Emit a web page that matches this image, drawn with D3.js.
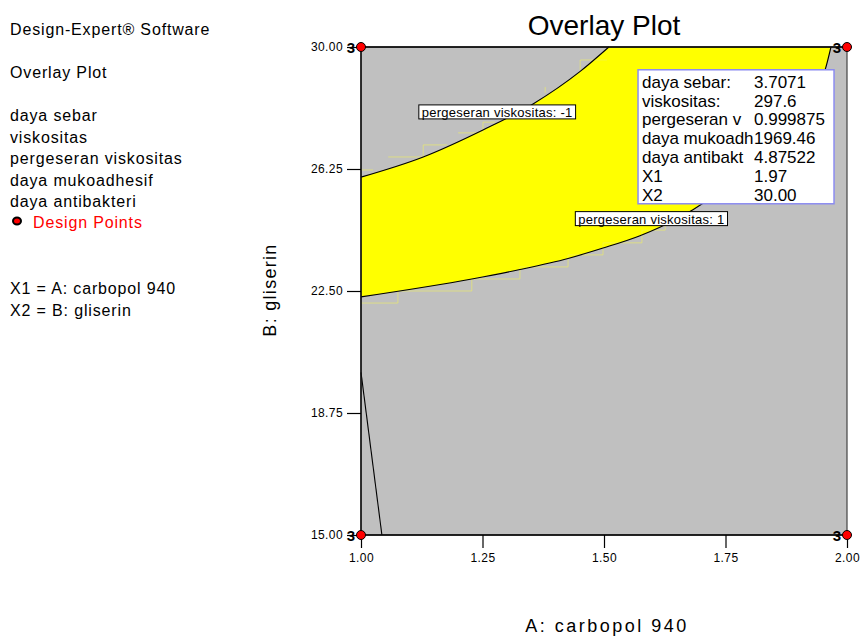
<!DOCTYPE html>
<html>
<head>
<meta charset="utf-8">
<script src="https://cdn.jsdelivr.net/npm/d3@7"></script>
<style>
  html, body { margin: 0; padding: 0; background: #fff; }
  svg { display: block; font-family: "Liberation Sans", Arial, sans-serif; }
</style>
</head>
<body>
<svg id="chart" width="860" height="637"></svg>
<script>
// ---------- data ----------
const xDomain = [1.0, 2.0];
const yDomain = [15.0, 30.0];
const xTicks = [1.00, 1.25, 1.50, 1.75, 2.00];
const yTicks = [15.00, 18.75, 22.50, 26.25, 30.00];

// contour: pergeseran viskositas = -1 (upper boundary of overlay window)
const contourMinus1 = [[1.000, 26.00], [1.128, 26.62], [1.251, 27.45], [1.354, 28.25], [1.451, 29.25], [1.510, 30.00]];
// contour: pergeseran viskositas = 1 (lower boundary of overlay window)
const contourPlus1 = [[1.000, 22.32], [1.228, 22.87], [1.327, 23.16], [1.426, 23.50], [1.498, 23.82], [1.574, 24.20],
                      [1.615, 24.46], [1.683, 25.00], [1.780, 26.05], [1.883, 27.60], [1.955, 29.30], [1.967, 30.00]];
// other constraint boundary, bottom-left
const contourOther = [[1.000, 20.00], [1.043, 15.00]];

// faint grid artifacts along contours
const stepsUpper = [
  [[1.000, 26.22], [1.025, 26.22]],
  [[1.056, 26.62], [1.128, 26.62], [1.128, 26.99], [1.177, 26.99]],
  [[1.200, 27.36], [1.251, 27.36], [1.251, 27.69], [1.276, 27.69]],
  [[1.379, 28.59], [1.379, 28.77]],
  [[1.451, 29.29], [1.451, 29.60], [1.506, 29.60]]
];
const stepsLower = [
  [[1.000, 22.13], [1.076, 22.13], [1.076, 22.50], [1.228, 22.50], [1.228, 22.87], [1.327, 22.87], [1.327, 23.24],
   [1.426, 23.24], [1.426, 23.61], [1.498, 23.61], [1.498, 23.98], [1.578, 23.98], [1.578, 24.37], [1.626, 24.37], [1.626, 24.55]]
];

const designPoints = [[1.0, 30.0, 3], [2.0, 30.0, 3], [1.0, 15.0, 3], [2.0, 15.0, 3]];

const contourLabels = [
  { text: "pergeseran viskositas: -1", a: 1.119, b: 28.22 },
  { text: "pergeseran viskositas: 1", a: 1.441, b: 24.94 }
];

const flagAnchor = [1.570, 29.30];
const flagNames = ["daya sebar:", "viskositas:", "pergeseran v", "daya mukoadh", "daya antibakt", "X1", "X2"];
const flagValues = ["3.7071", "297.6", "0.999875", "1969.46", "4.87522", "1.97", "30.00"];

const sideLines1 = ["Design-Expert® Software"];
const sideLines2 = ["Overlay Plot"];
const sideResponses = ["daya sebar", "viskositas", "pergeseran viskositas", "daya mukoadhesif", "daya antibakteri"];
const sideLegend = "Design Points";
const sideFactors = ["X1 = A: carbopol 940", "X2 = B: gliserin"];

const title = "Overlay Plot";
const xLabel = "A: carbopol 940";
const yLabel = "B: gliserin";

// ---------- drawing ----------
const svg = d3.select("#chart");
const plot = { left: 361, right: 847, top: 47, bottom: 535 };
const x = d3.scaleLinear().domain(xDomain).range([plot.left, plot.right]);
const y = d3.scaleLinear().domain(yDomain).range([plot.bottom, plot.top]);

// grey background
svg.append("rect")
  .attr("x", plot.left).attr("y", plot.top)
  .attr("width", plot.right - plot.left).attr("height", plot.bottom - plot.top)
  .attr("fill", "#c0c0c0");

const line = d3.line().x(d => x(d[0])).y(d => y(d[1])).curve(d3.curveMonotoneX);
const straight = d3.line().x(d => x(d[0])).y(d => y(d[1]));

// yellow window
const upperPath = line(contourMinus1);
const lowerRev = line(contourPlus1.slice().reverse()).replace(/^M/, "L");
svg.append("path")
  .attr("d", upperPath + lowerRev + "Z")
  .attr("fill", "#ffff00").attr("stroke", "none");

// faint steps
stepsUpper.concat(stepsLower).forEach(s => {
  svg.append("path").attr("d", straight(s))
    .attr("fill", "none").attr("stroke", "#f0f060").attr("stroke-width", 1).attr("opacity", 0.6);
});

// contour lines
[contourMinus1, contourPlus1].forEach(c => {
  svg.append("path").attr("d", line(c)).attr("fill", "none").attr("stroke", "#000").attr("stroke-width", 1.1);
});
svg.append("path").attr("d", straight(contourOther)).attr("fill", "none").attr("stroke", "#000").attr("stroke-width", 1.1);

// frame
svg.append("rect")
  .attr("x", plot.left).attr("y", plot.top)
  .attr("width", plot.right - plot.left).attr("height", plot.bottom - plot.top)
  .attr("fill", "none").attr("stroke", "#444").attr("stroke-width", 1.2);
svg.append("line").attr("x1", plot.left).attr("x2", plot.right).attr("y1", plot.top).attr("y2", plot.top)
  .attr("stroke", "#000").attr("stroke-width", 1.3);
svg.append("line").attr("x1", plot.left).attr("x2", plot.right).attr("y1", plot.bottom).attr("y2", plot.bottom)
  .attr("stroke", "#000").attr("stroke-width", 1.3);
svg.append("line").attr("x1", plot.left).attr("x2", plot.left).attr("y1", plot.top).attr("y2", plot.bottom)
  .attr("stroke", "#000").attr("stroke-width", 1.3);

// axes
const xAxis = d3.axisBottom(x).tickValues(xTicks).tickFormat(d3.format(".2f")).tickSize(13).tickPadding(5);
const gx = svg.append("g").attr("transform", `translate(0,${plot.bottom})`).call(xAxis);
gx.select(".domain").remove();
gx.selectAll("line").attr("stroke", "#000").attr("stroke-width", 1.2);
gx.selectAll("text").attr("font-size", 12).attr("letter-spacing", 0.4).attr("fill", "#000")
  .attr("font-family", '"Liberation Sans", Arial, sans-serif');

const yAxis = d3.axisLeft(y).tickValues(yTicks).tickFormat(d3.format(".2f")).tickSize(14).tickPadding(4);
const gy = svg.append("g").attr("transform", `translate(${plot.left},0)`).call(yAxis);
gy.select(".domain").remove();
gy.selectAll("line").attr("stroke", "#000").attr("stroke-width", 1.2);
gy.selectAll("text").attr("font-size", 12).attr("letter-spacing", 0.4).attr("fill", "#000")
  .attr("font-family", '"Liberation Sans", Arial, sans-serif');

// contour labels
contourLabels.forEach(l => {
  const g = svg.append("g").attr("transform", `translate(${x(l.a)},${y(l.b)})`);
  const t = g.append("text").attr("x", 3).attr("y", 12).attr("font-size", 13).attr("letter-spacing", 0.25)
    .attr("fill", "#000").text(l.text);
  const w = t.node().getComputedTextLength();
  g.insert("rect", "text").attr("x", 0).attr("y", 0).attr("width", w + 6).attr("height", 14)
    .attr("fill", "#fff").attr("stroke", "#000").attr("stroke-width", 1);
});

// flag box
const fx = x(flagAnchor[0]), fy = y(flagAnchor[1]);
const flag = svg.append("g").attr("transform", `translate(${fx},${fy})`);
flag.append("rect").attr("x", 0).attr("y", 0).attr("width", 196).attr("height", 134)
  .attr("fill", "#fff").attr("stroke", "#8c8cf0").attr("stroke-width", 1.5);
flagNames.forEach((n, i) => {
  flag.append("text").attr("x", 4).attr("y", 18 + i * 18.8).attr("font-size", 17).attr("fill", "#000").text(n);
  flag.append("text").attr("x", 116).attr("y", 18 + i * 18.8).attr("font-size", 17).attr("fill", "#000").text(flagValues[i]);
});

// design points
designPoints.forEach(p => {
  svg.append("text").attr("x", x(p[0]) - 6).attr("y", y(p[1]) + 5.5).attr("text-anchor", "end")
    .attr("font-size", 15).attr("font-weight", "bold").attr("fill", "#000").text(p[2]);
  svg.append("circle").attr("cx", x(p[0])).attr("cy", y(p[1])).attr("r", 4.5)
    .attr("fill", "#ff0000").attr("stroke", "#000").attr("stroke-width", 1);
});

// title and axis labels
svg.append("text").attr("x", 604).attr("y", 35).attr("text-anchor", "middle").attr("font-size", 28)
  .attr("fill", "#000").text(title);
svg.append("text").attr("x", 607).attr("y", 632).attr("text-anchor", "middle").attr("font-size", 18)
  .attr("letter-spacing", 2.5).attr("fill", "#000").text(xLabel);
svg.append("text").attr("transform", "translate(276,290) rotate(-90)").attr("text-anchor", "middle")
  .attr("font-size", 18).attr("letter-spacing", 1.3).attr("fill", "#000").text(yLabel);

// side panel
const side = svg.append("g").attr("font-size", 16).attr("letter-spacing", 0.85).attr("fill", "#000");
side.append("text").attr("x", 10).attr("y", 35).text(sideLines1[0]);
side.append("text").attr("x", 10).attr("y", 78).text(sideLines2[0]);
sideResponses.forEach((r, i) => {
  side.append("text").attr("x", 10).attr("y", 121 + i * 21.5).text(r);
});
side.append("ellipse").attr("cx", 17).attr("cy", 221).attr("rx", 4).attr("ry", 3.5)
  .attr("fill", "#ff0000").attr("stroke", "#000").attr("stroke-width", 2);
side.append("text").attr("x", 33).attr("y", 228).attr("fill", "#ff0000").text(sideLegend);
sideFactors.forEach((f, i) => {
  side.append("text").attr("x", 10).attr("y", 294 + i * 21.5).text(f);
});
</script>
</body>
</html>
